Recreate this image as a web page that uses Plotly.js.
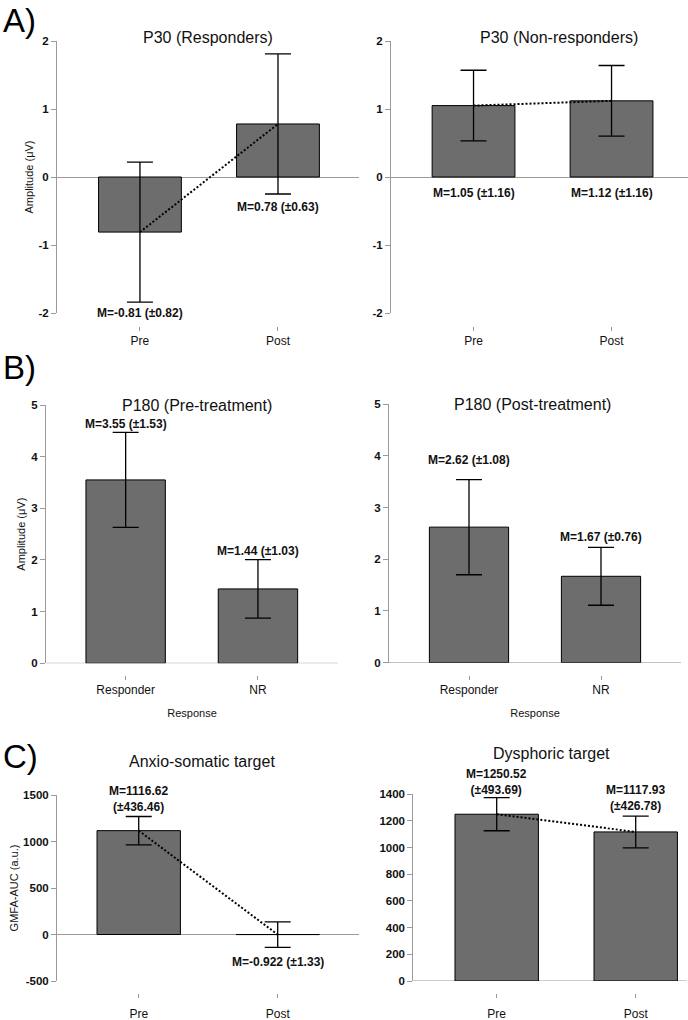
<!DOCTYPE html>
<html><head><meta charset="utf-8">
<script src="https://cdn.plot.ly/plotly-3.0.1.min.js"></script>
<style>html,body{margin:0;padding:0;background:#fff}#chart{width:688px;height:1020px}</style>
</head><body><div id="chart"></div>
<script>
// ---- data ----
const prePost = ['Pre', 'Post'];
const responseCats = ['Responder', 'NR'];

const p30Ticks = [-2, -1, 0, 1, 2];
const p180Ticks = [0, 1, 2, 3, 4, 5];
const anxTicks = [-500, 0, 500, 1000, 1500];
const dysTicks = [0, 200, 400, 600, 800, 1000, 1200, 1400];

const p30RespMean = [-0.81, 0.78];
const p30RespSD = [0.82, 0.63];
const p30RespErr = [1.03, 1.03];

const p30NonMean = [1.05, 1.12];
const p30NonSD = [1.16, 1.16];
const p30NonErr = [0.52, 0.52];

const p180PreMean = [3.55, 1.44];
const p180PreSD = [1.53, 1.03];
const p180PreErr = [0.92, 0.565];

const p180PostMean = [2.62, 1.67];
const p180PostSD = [1.08, 0.76];
const p180PostErr = [0.92, 0.56];

const anxMean = [1116.62, -0.922];
const anxSD = [436.46, 1.33];
const anxErr = [152, 137];

const dysMean = [1250.52, 1117.93];
const dysSD = [493.69, 426.78];
const dysErr = [124, 119];

// ---- helpers ----
const W = 688, H = 1020;
const px = x => x / W;
const py = y => 1 - y / H;
const FONT = 'Liberation Sans, Arial, Helvetica, sans-serif';
const BAR = '#6d6d6d';
const AX = '#9a9a9a';

const traces = [];
const annotations = [];
const shapes = [];

function panel(n, cats, mean, err, withLine) {
  const xa = n === 1 ? 'x' : 'x' + n;
  const ya = n === 1 ? 'y' : 'y' + n;
  traces.push({
    type: 'bar', x: cats, y: mean, xaxis: xa, yaxis: ya, width: 0.6,
    marker: {color: BAR, line: {color: '#000', width: 1}},
    error_y: {type: 'data', array: err, visible: true, color: '#000', thickness: 1.3, width: 13},
    hoverinfo: 'skip', showlegend: false
  });
  if (withLine) {
    traces.push({
      type: 'scatter', mode: 'lines', x: cats, y: mean, xaxis: xa, yaxis: ya,
      line: {color: '#000', width: 2, dash: '2px,2px'},
      hoverinfo: 'skip', showlegend: false
    });
  }
}

function label(n, cat, yval, text, shift) {
  const xa = n === 1 ? 'x' : 'x' + n;
  const ya = n === 1 ? 'y' : 'y' + n;
  annotations.push({
    xref: xa, yref: ya, x: cat, y: yval, text: text, showarrow: false,
    xanchor: 'center', yanchor: 'middle', yshift: shift,
    font: {family: FONT, size: 12, color: '#111', weight: 'bold'}
  });
}

function title(text, x, y) {
  annotations.push({
    xref: 'paper', yref: 'paper', x: px(x), y: py(y), text: text, showarrow: false,
    xanchor: 'center', yanchor: 'middle', font: {family: FONT, size: 16, color: '#111'}
  });
}

function letter(text, y) {
  annotations.push({
    xref: 'paper', yref: 'paper', x: px(1), y: py(y), text: text, showarrow: false,
    xanchor: 'left', yanchor: 'middle', font: {family: FONT, size: 33, color: '#000'}
  });
}

const oneLine = (m, s, i) => 'M=' + m[i] + ' (±' + s[i] + ')';
const twoLine = (m, s, i) => 'M=' + m[i] + '<br>(±' + s[i] + ')';

// A
panel(1, prePost, p30RespMean, p30RespErr, true);
panel(2, prePost, p30NonMean, p30NonErr, true);
// B
panel(3, responseCats, p180PreMean, p180PreErr, false);
panel(4, responseCats, p180PostMean, p180PostErr, false);
// C
panel(5, prePost, anxMean, anxErr, true);
panel(6, prePost, dysMean, dysErr, true);

// labels
label(1, prePost[0], p30RespMean[0] - p30RespErr[0], oneLine(p30RespMean, p30RespSD, 0), -11);
label(1, prePost[1], p30RespMean[1] - p30RespErr[1], oneLine(p30RespMean, p30RespSD, 1), -13);
label(2, prePost[0], 0, oneLine(p30NonMean, p30NonSD, 0), -16);
label(2, prePost[1], 0, oneLine(p30NonMean, p30NonSD, 1), -16);
label(3, responseCats[0], p180PreMean[0] + p180PreErr[0], oneLine(p180PreMean, p180PreSD, 0), 8);
label(3, responseCats[1], p180PreMean[1] + p180PreErr[1], oneLine(p180PreMean, p180PreSD, 1), 9);
label(4, responseCats[0], p180PostMean[0] + p180PostErr[0], oneLine(p180PostMean, p180PostSD, 0), 20);
label(4, responseCats[1], p180PostMean[1] + p180PostErr[1], oneLine(p180PostMean, p180PostSD, 1), 10);
label(5, prePost[0], anxMean[0] + anxErr[0], twoLine(anxMean, anxSD, 0), 18);
label(5, prePost[1], anxMean[1] - anxErr[1], oneLine(anxMean, anxSD, 1), -15);
label(6, prePost[0], dysMean[0] + dysErr[0], twoLine(dysMean, dysSD, 0), 16);
label(6, prePost[1], dysMean[1] + dysErr[1], twoLine(dysMean, dysSD, 1), 18);

// titles
title('P30 (Responders)', 208, 38);
title('P30 (Non-responders)', 559, 38);
title('P180 (Pre-treatment)', 197, 406);
title('P180 (Post-treatment)', 532, 405);
title('Anxio-somatic target', 202, 761);
title('Dysphoric target', 551, 753);

letter('A)', 20);
letter('B)', 367);
letter('C)', 756);

// baselines at y=0 for panels whose range starts at 0
[3, 4, 6].forEach(n => {
  shapes.push({
    type: 'line', xref: 'x' + n + ' domain', yref: 'y' + n, x0: 0, x1: 1, y0: 0, y1: 0,
    line: {color: AX, width: 1}, layer: 'below'
  });
});

function xaxis(d0, d1, r0, r1, pos, extra) {
  return Object.assign({
    domain: [px(d0), px(d1)], range: [r0, r1], type: 'category',
    anchor: 'free', position: py(pos), showline: false, zeroline: false, showgrid: false,
    ticks: 'outside', ticklen: 4, tickcolor: AX, tickwidth: 1,
    tickfont: {family: FONT, size: 12, color: '#111'}, fixedrange: true
  }, extra || {});
}
function yaxis(anchor, top, bot, r0, r1, ticks, zl, extra) {
  return Object.assign({
    anchor: anchor, domain: [py(bot), py(top)], range: [r0, r1],
    tickmode: 'array', tickvals: ticks, ticktext: ticks.map(v => '<b>' + String(v) + '</b>'),
    showline: true, linecolor: AX, linewidth: 1, showgrid: false,
    zeroline: zl, zerolinecolor: AX, zerolinewidth: 1,
    ticks: 'outside', ticklen: 5, tickcolor: AX, tickwidth: 1,
    tickfont: {family: FONT, size: 11.5, color: '#111'}, fixedrange: true
  }, extra || {});
}

const ytitle = (t, so) => ({title: {text: t, standoff: so, font: {family: FONT, size: 11, color: '#111'}}});
const xt = {title: {text: 'Response', standoff: 12, font: {family: FONT, size: 11, color: '#111'}}};

const layout = {
  width: W, height: H, margin: {l: 0, r: 0, t: 0, b: 0},
  paper_bgcolor: '#fff', plot_bgcolor: 'rgba(0,0,0,0)',
  font: {family: FONT, color: '#111'}, showlegend: false, bargap: 0,
  xaxis: xaxis(57, 359, -0.601, 1.587, 326),
  xaxis2: xaxis(391, 688, -0.598, 1.554, 326),
  xaxis3: xaxis(46, 338, -0.602, 1.605, 675, xt),
  xaxis4: xaxis(389, 681, -0.606, 1.606, 675, xt),
  xaxis5: xaxis(57, 359, -0.588, 1.585, 992.5, {ticklabelstandoff: 6}),
  xaxis6: xaxis(413.3, 687, -0.6, 1.369, 992.5, {ticklabelstandoff: 6}),
  yaxis: yaxis('x', 41, 313, -2, 2, p30Ticks, true, ytitle('Amplitude (μV)', 2)),
  yaxis2: yaxis('x2', 41, 313, -2, 2, p30Ticks, true),
  yaxis3: yaxis('x3', 405, 663.3, 0, 5, p180Ticks, false, ytitle('Amplitude (μV)', 3)),
  yaxis4: yaxis('x4', 404, 662.7, 0, 5, p180Ticks, false),
  yaxis5: yaxis('x5', 795, 981, -500, 1500, anxTicks, true, ytitle('GMFA-AUC (a.u.)', 2)),
  yaxis6: yaxis('x6', 794.3, 981, 0, 1400, dysTicks, false),
  annotations: annotations,
  shapes: shapes
};

Plotly.newPlot('chart', traces, layout, {staticPlot: true, displayModeBar: false});
</script>
</body></html>
